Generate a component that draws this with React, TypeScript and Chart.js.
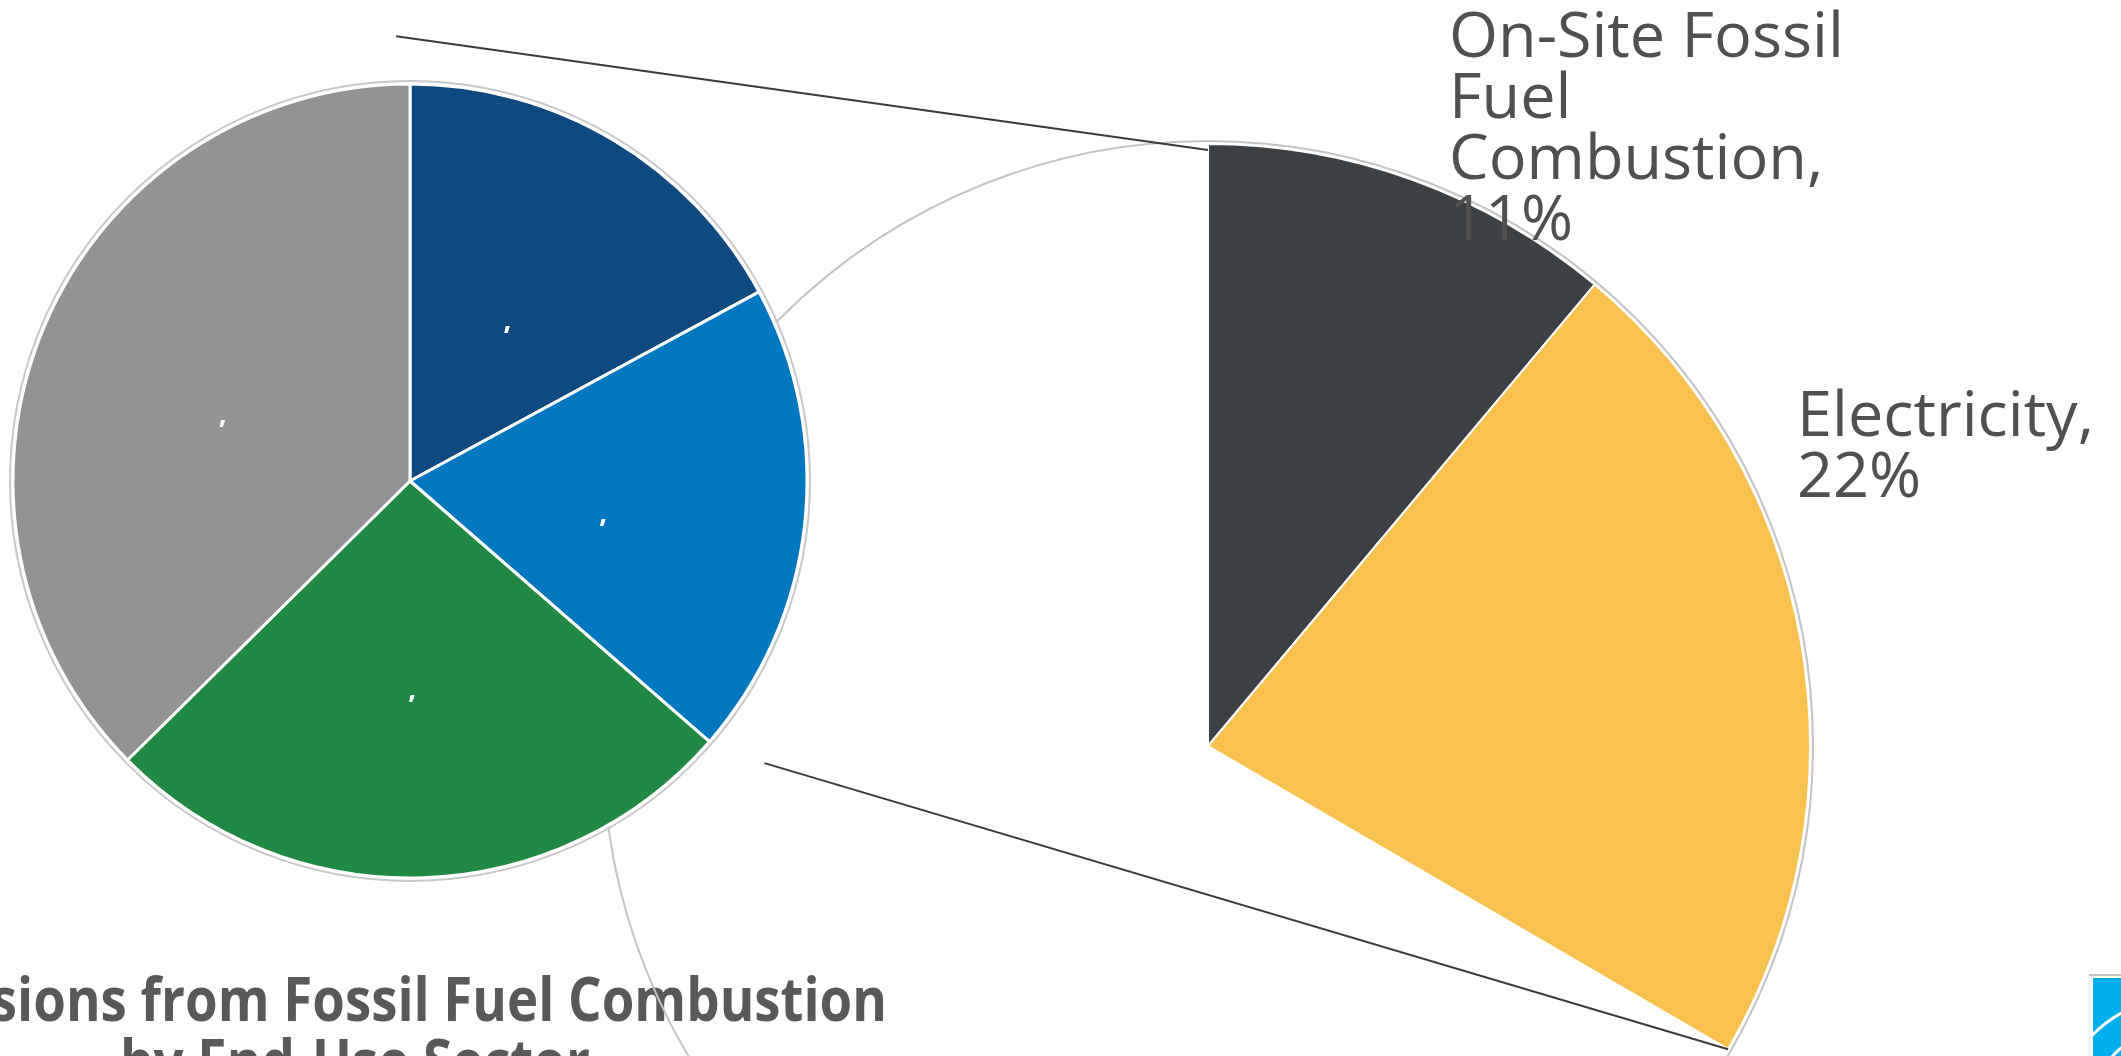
import React, { useEffect, useRef } from "react";
import { Chart, registerables } from "chart.js";

Chart.register(...registerables);

// ---------- data ----------
const SECTORS = ["Commercial", "Residential", "Industrial", "Transportation"];
const SECTOR_SHARES = [17.1, 19.3, 26.2, 37.4];
const SECTOR_COLORS = ["#0e4a80", "#0077be", "#228944", "#939395"];
const SECTOR_LABEL_TEXT = [",", ",", ",", ","];

const BREAKDOWN = ["On-Site Fossil Fuel Combustion", "Electricity", "Other"];
const BREAKDOWN_SHARES = [11.1, 22.3, 66.6];
const BREAKDOWN_COLORS = ["#3d4043", "#f9c24f", "rgba(0,0,0,0)"];
const BREAKDOWN_LABEL_WRAP = [["On-Site Fossil", "Fuel", "Combustion,"], ["Electricity,"]];

const TITLE_LINES = ["CO\u2082 Emissions from Fossil Fuel Combustion", "by End-Use Sector"];

// ---------- layout (page frame) ----------
const OX = -500; // canvases start left of the page
const W = 2621;
const H = 1400;
const px = (x: number) => x - OX;

const TEXT_COLOR = "#505050";

export default function App() {
  const leftRef = useRef<HTMLCanvasElement>(null);
  const rightRef = useRef<HTMLCanvasElement>(null);

  useEffect(() => {
    // ---- main pie (on top) ----
    const leftCenterX = px(410);
    const leftCenterY = 481;
    const leftHalf = 450;
    const leftPlugin = {
      id: "leftDecor",
      afterDatasetsDraw(chart: any) {
        const ctx = chart.ctx;
        const arcs = chart.getDatasetMeta(0).data;
        const a0 = arcs[0];
        ctx.save();
        ctx.beginPath();
        ctx.arc(a0.x, a0.y, a0.outerRadius + 3, 0, Math.PI * 2);
        ctx.strokeStyle = "#c8c8c8";
        ctx.lineWidth = 2;
        ctx.stroke();
        ctx.fillStyle = "#ffffff";
        ctx.font = "bold 28px 'Open Sans'";
        ctx.textAlign = "center";
        ctx.textBaseline = "alphabetic";
        arcs.forEach((arc: any, i: number) => {
          const p = arc.getCenterPoint();
          ctx.fillText(SECTOR_LABEL_TEXT[i], p.x - 4, p.y + 19);
        });
        ctx.restore();
      },
    };
    const left = new Chart(leftRef.current!, {
      type: "pie",
      data: {
        labels: SECTORS,
        datasets: [
          {
            data: SECTOR_SHARES,
            backgroundColor: SECTOR_COLORS,
            borderColor: "#ffffff",
            borderWidth: 3,
            radius: 397,
          } as any,
        ],
      },
      options: {
        responsive: false,
        animation: false,
        events: [],
        layout: {
          padding: {
            left: leftCenterX - leftHalf,
            right: W - leftCenterX - leftHalf,
            top: leftCenterY - leftHalf,
            bottom: H - leftCenterY - leftHalf,
          },
        },
        plugins: { legend: { display: false }, tooltip: { enabled: false }, title: { display: false } },
      },
      plugins: [leftPlugin],
    });

    // ---- secondary pie (behind) ----
    const rCenterX = px(1208);
    const rCenterY = 746;
    const rHalf = 620;
    const rightPlugin = {
      id: "rightDecor",
      beforeDatasetsDraw(chart: any) {
        const ctx = chart.ctx;
        ctx.save();
        ctx.fillStyle = "#595959";
        ctx.font = "bold 60px 'Open Sans'";
        ctx.textBaseline = "alphabetic";
        const squeeze = 0.88;
        const w1 = ctx.measureText(TITLE_LINES[0]).width * squeeze;
        const w2 = ctx.measureText(TITLE_LINES[1]).width * squeeze;
        ctx.textAlign = "right";
        ctx.fillText(TITLE_LINES[0], px(887), 1021, w1);
        ctx.textAlign = "center";
        ctx.fillText(TITLE_LINES[1], px(355), 1083, w2);
        ctx.restore();
      },
      afterDatasetsDraw(chart: any) {
        const ctx = chart.ctx;
        const arcs = chart.getDatasetMeta(0).data;
        const a0 = arcs[0];
        const cx = a0.x;
        const cy = a0.y;
        const r = a0.outerRadius;
        ctx.save();
        // outline of the secondary pie
        ctx.beginPath();
        ctx.arc(cx, cy, r + 3, 0, Math.PI * 2);
        ctx.strokeStyle = "#c4c4c4";
        ctx.lineWidth = 2;
        ctx.stroke();

        // connector lines from main pie to secondary pie
        const lm = left.getDatasetMeta(0).data as any[];
        const L0 = lm[0];
        const L1 = lm[1];
        const lr = L0.outerRadius;
        const sA = L0.startAngle - 0.031;
        const eA = L1.endAngle - 0.044;
        const s1 = { x: L0.x + Math.cos(sA) * lr * 1.121, y: L0.y + Math.sin(sA) * lr * 1.121 };
        const s2 = { x: L0.x + Math.cos(eA) * lr * 1.141, y: L0.y + Math.sin(eA) * lr * 1.141 };
        const first = arcs[0];
        const lastVisible = arcs[1];
        const e1 = { x: cx + Math.cos(first.startAngle) * (r - 6), y: cy + Math.sin(first.startAngle) * (r - 6) };
        const e2 = { x: cx + Math.cos(lastVisible.endAngle) * r, y: cy + Math.sin(lastVisible.endAngle) * r };
        ctx.strokeStyle = "#3a3a3a";
        ctx.lineWidth = 2;
        ctx.beginPath();
        ctx.moveTo(s1.x, s1.y);
        ctx.lineTo(e1.x, e1.y);
        ctx.moveTo(s2.x, s2.y);
        ctx.lineTo(e2.x, e2.y);
        ctx.stroke();

        // data labels
        ctx.fillStyle = TEXT_COLOR;
        ctx.font = "63px 'Open Sans'";
        ctx.textAlign = "left";
        ctx.textBaseline = "alphabetic";
        const anchors = [
          { dx: 241, dy: -689 },
          { dx: 589, dy: -310 },
        ];
        BREAKDOWN_LABEL_WRAP.forEach((lines, i) => {
          const all = [...lines, `${Math.round(BREAKDOWN_SHARES[i])}%`];
          all.forEach((t, j) => {
            ctx.fillText(t, cx + anchors[i].dx, cy + anchors[i].dy + j * 61);
          });
        });

        // corner logo fragment
        ctx.strokeStyle = "#c4c4c4";
        ctx.lineWidth = 2;
        ctx.beginPath();
        ctx.moveTo(px(2089), 975);
        ctx.lineTo(px(2125), 975);
        ctx.stroke();
        ctx.fillStyle = "#00b0ee";
        ctx.fillRect(px(2093), 978, 40, 90);
        ctx.strokeStyle = "#ffffff";
        ctx.lineWidth = 3;
        ctx.beginPath();
        ctx.arc(px(2180), 1120, 122, Math.PI * 1.0, Math.PI * 1.6);
        ctx.stroke();
        ctx.beginPath();
        ctx.arc(px(2180), 1120, 93, Math.PI * 1.0, Math.PI * 1.6);
        ctx.stroke();
        ctx.restore();
      },
    };
    const right = new Chart(rightRef.current!, {
      type: "pie",
      data: {
        labels: BREAKDOWN,
        datasets: [
          {
            data: BREAKDOWN_SHARES,
            backgroundColor: BREAKDOWN_COLORS,
            borderColor: ["#ffffff", "#ffffff", "rgba(0,0,0,0)"],
            borderWidth: [2, 2, 0],
            radius: 602,
          } as any,
        ],
      },
      options: {
        responsive: false,
        animation: false,
        events: [],
        layout: {
          padding: {
            left: rCenterX - rHalf,
            right: W - rCenterX - rHalf,
            top: rCenterY - rHalf,
            bottom: H - rCenterY - rHalf,
          },
        },
        plugins: { legend: { display: false }, tooltip: { enabled: false }, title: { display: false } },
      },
      plugins: [rightPlugin],
    });

    return () => {
      right.destroy();
      left.destroy();
    };
  }, []);

  const canvasStyle: React.CSSProperties = {
    position: "absolute",
    left: OX,
    top: 0,
    width: W,
    height: H,
    display: "block",
  };

  return (
    <div
      style={{
        position: "fixed",
        left: 0,
        top: 0,
        width: 2121,
        height: 1056,
        overflow: "hidden",
        background: "#ffffff",
      }}
    >
      <canvas ref={rightRef} width={W} height={H} style={{ ...canvasStyle, zIndex: 1 }} />
      <canvas ref={leftRef} width={W} height={H} style={{ ...canvasStyle, zIndex: 2 }} />
    </div>
  );
}
